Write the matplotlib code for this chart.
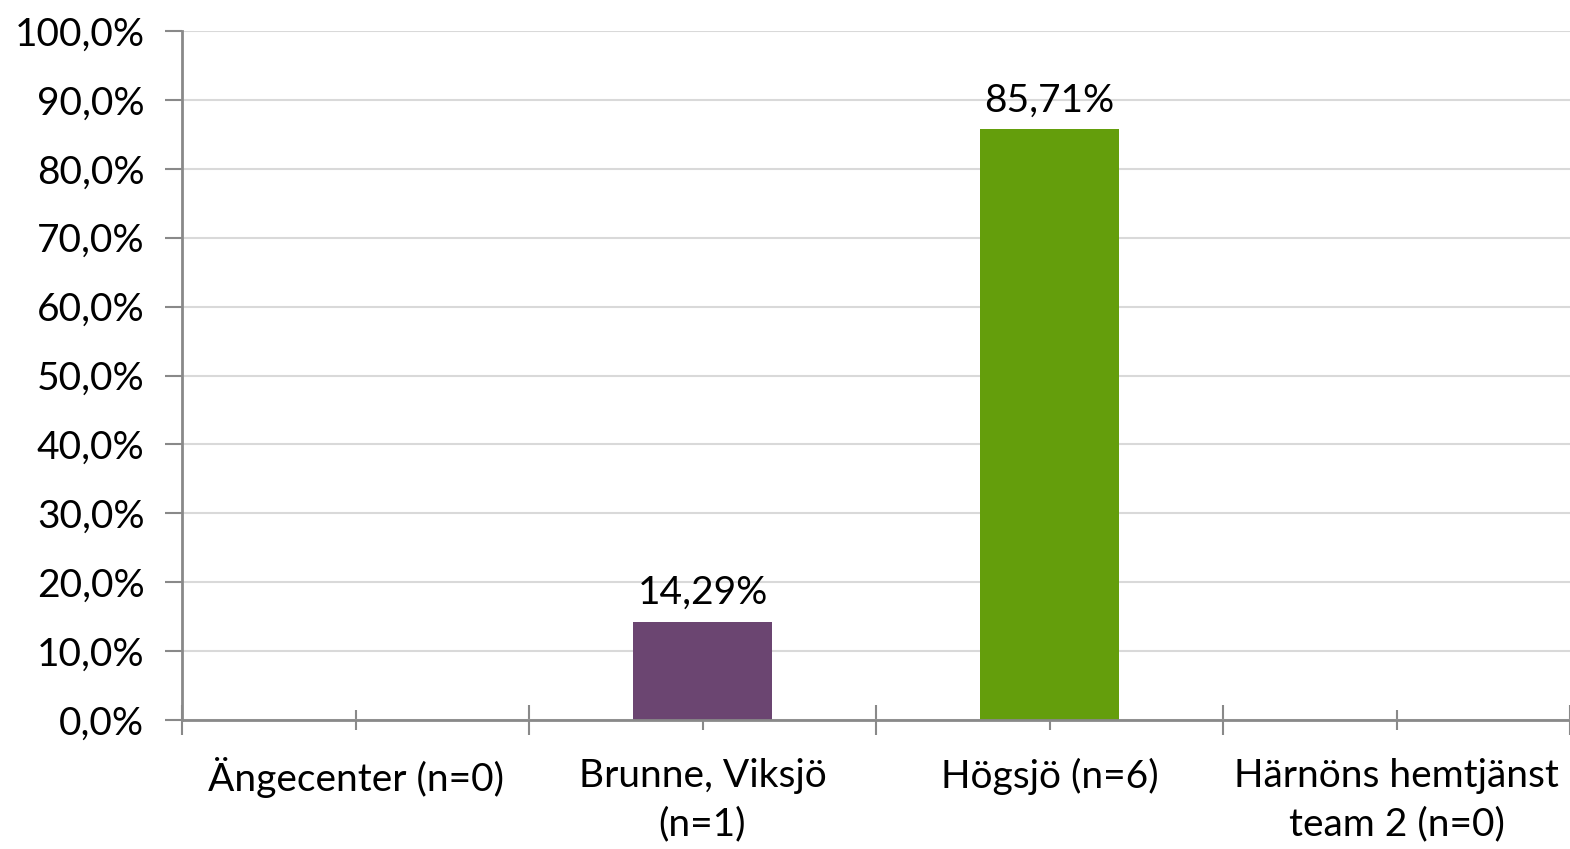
import matplotlib.pyplot as plt
from matplotlib.ticker import FuncFormatter, FixedLocator

plt.rcParams['font.family'] = ['Lato', 'DejaVu Sans']

categories = ['Ängecenter (n=0)', 'Brunne, Viksjö\n(n=1)', 'Högsjö (n=6)',
              'Härnöns hemtjänst\nteam 2 (n=0)']
values = [0.0, 14.29, 85.71, 0.0]
bar_colors = ['#6B4571', '#6B4571', '#649E0C', '#649E0C']
value_labels = ['', '14,29%', '85,71%', '']

fig = plt.figure(figsize=(15.7, 8.49), dpi=100)
ax = fig.add_axes([182 / 1570, 1 - 720 / 849, 1 - 182 / 1570, (720 - 31) / 849])

x = list(range(len(categories)))
bars = ax.bar(x, values, width=0.4, color=bar_colors, zorder=3)
for b, v, lab in zip(bars, values, value_labels):
    if lab:
        ax.text(b.get_x() + b.get_width() / 2, v + 1.6, lab, ha='center', va='bottom',
                fontsize=28, color='black')

ax.set_xlim(-0.5, len(categories) - 0.5)
ax.set_ylim(0, 100)
ax.set_yticks(range(0, 101, 10))
ax.yaxis.set_major_formatter(FuncFormatter(lambda v, p: f'{v:.1f}%'.replace('.', ',')))
ax.yaxis.grid(True, color='#D9D9D9', linewidth=1.5, zorder=0)

# boundaries as major ticks, centers as minor ticks with labels
ax.xaxis.set_major_locator(FixedLocator([i - 0.5 for i in range(len(categories) + 1)]))
ax.xaxis.set_minor_locator(FixedLocator(x))
ax.xaxis.set_major_formatter(FuncFormatter(lambda v, p: ''))
ax.set_xticks(x, categories, minor=True)
for t in ax.get_xticklabels(minor=True):
    t.set_linespacing(1.45)
ax.tick_params(axis='x', which='major', direction='inout', length=22, width=1.5, color='#898989')
ax.tick_params(axis='x', which='minor', direction='inout', length=14, width=1.5, color='#898989',
               labelsize=28, pad=20)
ax.tick_params(axis='y', direction='out', length=12, width=1.5, color='#898989', labelsize=28, pad=15)

for s in ['top', 'right']:
    ax.spines[s].set_visible(False)
for s in ['left', 'bottom']:
    ax.spines[s].set_color('#898989')
    ax.spines[s].set_linewidth(2)
    ax.spines[s].set_zorder(4)

fig.savefig('out.png', dpi=100)
